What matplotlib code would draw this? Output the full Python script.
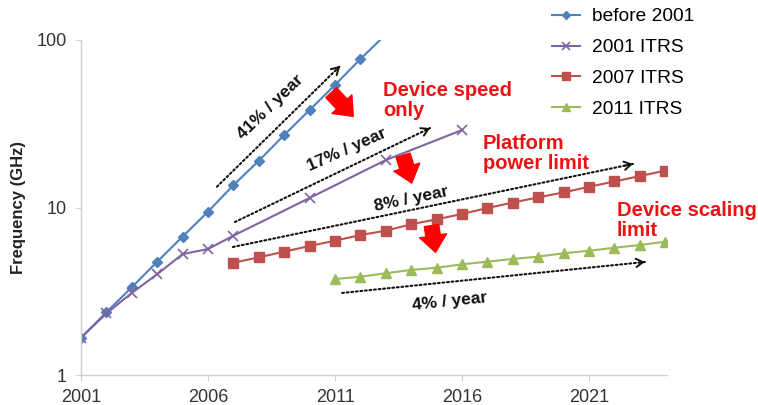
import matplotlib
matplotlib.use('Agg')
import matplotlib.pyplot as plt
from matplotlib.ticker import NullLocator

plt.rcParams['font.family'] = ['Liberation Sans', 'DejaVu Sans']

# data (GHz per year)
years_before = [2001, 2002, 2003, 2004, 2005, 2006, 2007, 2008, 2009, 2010, 2011, 2012, 2013]
freq_before = [1.67, 2.37, 3.34, 4.75, 6.7, 9.44, 13.6, 19.0, 27.1, 38.2, 53.9, 77.0, 108.0]

years_itrs01 = [2001, 2002, 2003, 2004, 2005, 2006, 2007, 2010, 2013, 2016]
freq_itrs01 = [1.67, 2.33, 3.09, 4.0, 5.27, 5.65, 6.79, 11.4, 19.2, 29.0]

years_itrs07 = [2007, 2008, 2009, 2010, 2011, 2012, 2013, 2014, 2015,
                2016, 2017, 2018, 2019, 2020, 2021, 2022, 2023, 2024]
freq_itrs07 = [4.68, 5.04, 5.45, 5.89, 6.34, 6.85, 7.27, 7.94, 8.5,
               9.15, 9.93, 10.7, 11.5, 12.3, 13.3, 14.3, 15.4, 16.6]

years_itrs11 = [2011, 2012, 2013, 2014, 2015, 2016, 2017, 2018, 2019, 2020, 2021, 2022, 2023, 2024]
freq_itrs11 = [3.74, 3.86, 4.05, 4.24, 4.37, 4.58, 4.75, 4.93, 5.09, 5.33, 5.52, 5.75, 5.97, 6.25]

series_labels = ['before 2001', '2001 ITRS', '2007 ITRS', '2011 ITRS']
x_ticks = [2001, 2006, 2011, 2016, 2021]
y_ticks = [1, 10, 100]

fig = plt.figure(figsize=(7.58, 4.05), dpi=100)
ax = fig.add_axes([81 / 758, 30 / 405, 586 / 758, 335 / 405])

ax.plot(years_before, freq_before, color='#4f81bd', lw=1.5, marker='D', ms=5, label=series_labels[0])
ax.plot(years_itrs01, freq_itrs01, color='#8064a2', lw=1.5, marker='x', ms=7, mew=1.2, label=series_labels[1])
ax.plot(years_itrs07, freq_itrs07, color='#c0504d', lw=1.5, marker='s', ms=7, label=series_labels[2])
ax.plot(years_itrs11, freq_itrs11, color='#9bbb59', lw=1.5, marker='^', ms=7, label=series_labels[3])

ax.set_yscale('log')
ax.set_xlim(2001, 2024.07)
ax.set_ylim(1, 100)
ax.set_yticks(y_ticks)
ax.set_yticklabels([str(v) for v in y_ticks])
ax.yaxis.set_minor_locator(NullLocator())
ax.set_xticks(x_ticks)
ax.set_xticklabels([str(v) for v in x_ticks])

for s in ['top', 'right']:
    ax.spines[s].set_visible(False)
for s in ['left', 'bottom']:
    ax.spines[s].set_color('#d0d0d0')
    ax.spines[s].set_linewidth(1)
ax.tick_params(axis='both', length=4, color='#d0d0d0', labelsize=13, labelcolor='#333333', pad=6)

ax.set_ylabel('Frequency (GHz)', fontsize=12, fontweight='bold', color='#222222', labelpad=8)

# dotted trend arrows
trends = [((2006.35, 13.3), (2011.2, 70.0)),
          ((2007.06, 8.19), (2014.74, 29.8)),
          ((2006.98, 5.81), (2022.73, 18.2)),
          ((2011.28, 3.09), (2023.2, 4.73))]
for start, end in trends:
    ax.annotate('', xy=end, xytext=start,
                arrowprops=dict(arrowstyle='-', linestyle=(0, (0.9, 1.3)), lw=1.5, color='#111111',
                                shrinkA=0, shrinkB=0))
    dx = end[0] - start[0]
    near = (end[0] - 0.02 * dx, start[1] * (end[1] / start[1]) ** 0.98)
    ax.annotate('', xy=end, xytext=near,
                arrowprops=dict(arrowstyle='->,head_length=0.5,head_width=0.3', lw=1.4, color='#111111',
                                shrinkA=0, shrinkB=0))

ax.text(2008.44, 39.8, '41% / year', fontsize=12.5, fontweight='bold', rotation=44,
        ha='center', va='center', color='#111111')
ax.text(2011.47, 22.0, '17% / year', fontsize=12.5, fontweight='bold', rotation=24,
        ha='center', va='center', color='#111111')
ax.text(2013.99, 11.2, '8% / year', fontsize=12.5, fontweight='bold', rotation=11.7,
        ha='center', va='center', color='#111111')
ax.text(2015.53, 2.74, '4% / year', fontsize=12.5, fontweight='bold', rotation=6,
        ha='center', va='center', color='#111111')

# red block arrows
red_arrows = [((2010.85, 48.5), (2011.72, 35.0)),
              ((2013.68, 20.5), (2014.02, 14.0)),
              ((2014.8, 7.8), (2014.96, 5.4))]
for tail, tip in red_arrows:
    ax.annotate('', xy=tip, xytext=tail,
                arrowprops=dict(arrowstyle='simple,head_length=0.8,head_width=1.3,tail_width=0.7',
                                color='#ff0000', mutation_scale=15, shrinkA=0, shrinkB=0))

red_kw = dict(fontsize=14.5, fontweight='bold', color='#ee1111', ha='left', va='top', linespacing=1.05)
fig.text(383 / 758, 1 - 81 / 405, 'Device speed\nonly', **red_kw)
fig.text(483 / 758, 1 - 134 / 405, 'Platform\npower limit', **red_kw)
fig.text(617 / 758, 1 - 201 / 405, 'Device scaling\nlimit', **red_kw)

fig.legend(loc='upper left', bbox_to_anchor=(552 / 758, 1 - 8 / 405), frameon=False,
           fontsize=13.8, handlelength=1.45, handletextpad=0.62, labelspacing=0.7,
           borderpad=0, borderaxespad=0, markerscale=0.9)

fig.savefig('out.png', dpi=100)
